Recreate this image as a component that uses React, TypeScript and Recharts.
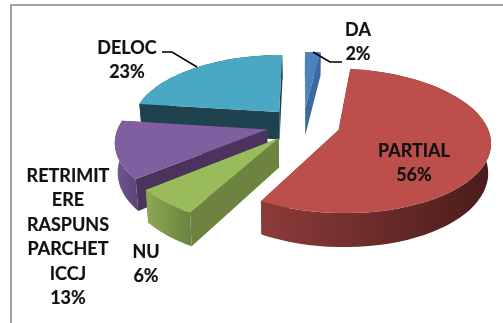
import React from "react";
import { PieChart, Pie } from "recharts";

const categories = ["DELOC", "RETRIMITERE RASPUNS PARCHET ICCJ", "NU", "PARTIAL", "DA"];
const values = [23, 13, 6, 56, 2];
const topColors = ["#4aa8c4", "#7f5fa0", "#9abb59", "#bc4f4c", "#4f81bd"];
const cutColors = ["#1e434e", "#4a345e", "#6c8440", "#6e2c2a", "#3c6a9e"];
const wallFrom = ["#1e434e", "#735793", "#8ea952", "#8c3c3a", "#3c6a9e"];
const wallTo = ["#1e434e", "#5a4473", "#6a8240", "#4a1c1a", "#3c6a9e"];
const labelLines = [["DELOC"], ["RETRIMIT", "ERE", "RASPUNS", "PARCHET", "ICCJ"], ["NU"], ["PARTIAL"], ["DA"]];

const labelAnchors = [
  { x: 127, y: 54 },
  { x: 68, y: 182 },
  { x: 146, y: 258 },
  { x: 414, y: 157 },
  { x: 358, y: 36 },
];
const leaders: Record<string, string> = {
  DELOC: "M162 52 L172 52 L197 67",
  DA: "M313 52 L330 62 L342 62",
};

const FONT = "Lato, Carlito, sans-serif";
const RAD = Math.PI / 180;
const EXPLODE = 0.25;
const TILT = 69 / 148;
const PERSPECTIVE = 0.15;
const DEPTH = 28.5;
const chartData = categories.map((name, i) => ({ name, value: values[i], fill: topColors[i], index: i }));

function Slice(props: any) {
  const { cx, cy, outerRadius: R, startAngle, endAngle, midAngle, payload } = props;
  const i = payload?.index ?? props.index ?? 0;
  const ox = Math.cos(midAngle * RAD) * EXPLODE;
  const oy = -Math.sin(midAngle * RAD) * EXPLODE;
  const project = (X: number, Y: number) => {
    const s = 1 / (1 - PERSPECTIVE * Y);
    return { x: cx + R * X * s, y: cy + R * TILT * Y * s, s };
  };
  const down = (p: { x: number; y: number; s: number }) => ({
    x: p.x + (cx - p.x) * 0.015,
    y: p.y + DEPTH * p.s,
    s: p.s,
  });
  const apex = project(ox, oy);
  const rim: { x: number; y: number; s: number }[] = [];
  const steps = 60;
  for (let k = 0; k <= steps; k++) {
    const a = (startAngle + ((endAngle - startAngle) * k) / steps) * RAD;
    rim.push(project(Math.cos(a) + ox, -Math.sin(a) + oy));
  }
  const poly = (pts: { x: number; y: number }[]) =>
    "M" + pts.map((p) => `${p.x.toFixed(1)} ${p.y.toFixed(1)}`).join(" L") + " Z";
  const first = rim[0];
  const last = rim[rim.length - 1];
  const gid = `wall-${i}`;
  return (
    <g>
      <defs>
        <linearGradient id={gid} x1="0" y1="0" x2="1" y2="0">
          <stop offset="0" stopColor={wallFrom[i]} />
          <stop offset="1" stopColor={wallTo[i]} />
        </linearGradient>
      </defs>
      <path d={poly([apex, first, down(first), down(apex)])} fill={cutColors[i]} />
      <path d={poly([apex, last, down(last), down(apex)])} fill={cutColors[i]} />
      <path d={poly([...rim, ...rim.map(down).reverse()])} fill={`url(#${gid})`} />
      <path d={poly([apex, ...rim])} fill={topColors[i]} />
    </g>
  );
}

function SliceLabel(props: any) {
  const i = props.index as number;
  const a = labelAnchors[i];
  const lines = [...labelLines[i], `${values[i]}%`];
  const step = 24.4;
  const leader = leaders[labelLines[i][0]];
  return (
    <g>
      {leader && <path d={leader} fill="none" stroke="#000" strokeWidth={1.5} />}
      <text x={a.x} y={a.y} textAnchor="middle" fontFamily={FONT} fontWeight={700} fontSize={18} fill="#111" stroke="#111" strokeWidth={0.2}>
        {lines.map((l, k) => (
          <tspan key={k} x={a.x} y={a.y + k * step}>
            {l}
          </tspan>
        ))}
      </text>
    </g>
  );
}

export default function App() {
  return (
    <div style={{ position: "absolute", left: 0, top: 0, width: 503, height: 323, background: "#fff", overflow: "hidden" }}>
      <div style={{ position: "absolute", left: 10, top: 4, width: 493, height: 319, borderLeft: "2px solid #a0a0a0", borderTop: "2px solid #a0a0a0", boxSizing: "border-box" }} />
      <div style={{ position: "absolute", left: 0, top: 0, filter: "blur(0.35px)" }}>
        <PieChart width={503} height={323} margin={{ top: 0, right: 0, bottom: 0, left: 0 }}>
          <Pie
            data={chartData}
            dataKey="value"
            nameKey="name"
            cx={303}
            cy={124.5}
            innerRadius={0}
            outerRadius={148}
            startAngle={90}
            endAngle={450}
            stroke="none"
            shape={Slice}
            label={SliceLabel}
            labelLine={false}
            isAnimationActive={false}
          />
        </PieChart>
      </div>
    </div>
  );
}
